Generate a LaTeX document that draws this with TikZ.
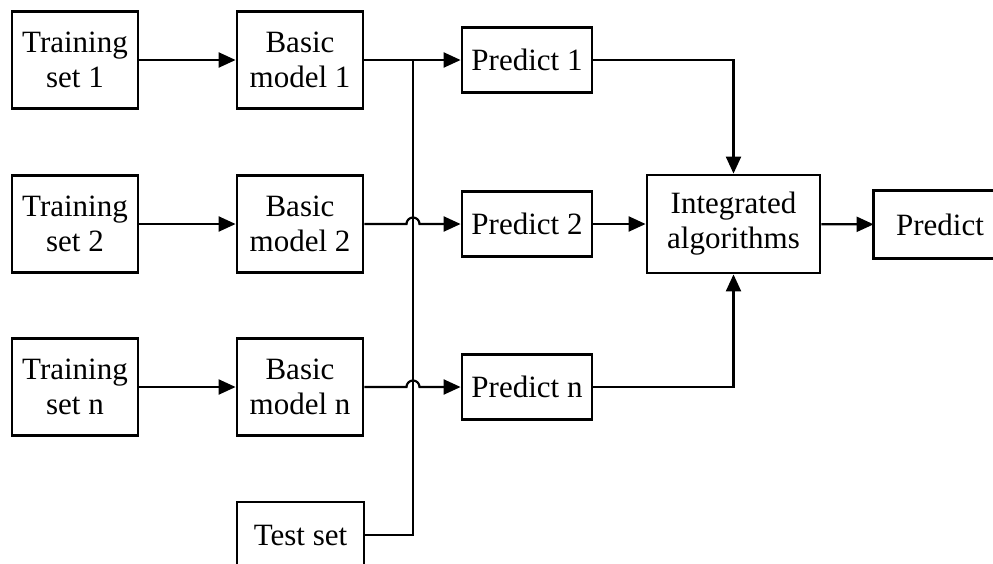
\documentclass[tikz,border=0pt]{standalone}
\usepackage{fontspec}
\setmainfont{Liberation Serif}
\usetikzlibrary{arrows.meta,calc}
\begin{document}
\begin{tikzpicture}[x=1pt,y=1pt,
  box/.style={draw=black,line width=2.8pt,fill=white,align=center,inner sep=0pt,
    font=\fontsize{31}{35}\selectfont},
  tbox/.style={box,minimum width=126pt,minimum height=97pt},
  pbox/.style={box,minimum width=130pt,minimum height=65pt},
  conn/.style={line width=2.2pt,draw=black},
  arr/.style={conn,-{Triangle[length=17pt,width=15pt]}}]
\useasboundingbox (0,0) rectangle (993,-563);
\clip (0,0) rectangle (993,-563);
% nodes
\node[tbox] (t1) at (75,-60) {Training\\set 1};
\node[tbox] (b1) at (300,-60) {Basic\\model 1};
\node[pbox] (p1) at (527,-60) {Predict 1};
\node[tbox] (t2) at (75,-224) {Training\\set 2};
\node[tbox] (b2) at (300,-224) {Basic\\model 2};
\node[pbox] (p2) at (527,-224) {Predict 2};
\node[tbox] (tn) at (75,-387) {Training\\set n};
\node[tbox] (bn) at (300,-387) {Basic\\model n};
\node[pbox] (pn) at (527,-387) {Predict n};
\node[box,minimum width=173pt,minimum height=98pt] (ia) at (733.5,-224) {Integrated\\algorithms};
\node[box,draw=none,minimum width=130pt,minimum height=65pt] (pr) at (940,-224.5) {Predict};
\draw[line width=2.8pt] ([xshift=40pt]pr.north east) -- (pr.north west) -- (pr.south west) -- ([xshift=40pt]pr.south east);
\node[box,minimum width=127pt,minimum height=66pt] (ts) at (300.5,-535) {Test set};
% junction / hop coordinates
\coordinate (j1) at (413,-60);
\coordinate (h2) at (413,-224);
\coordinate (hn) at (413,-387);
% connectors
\draw[arr] (t1) -- (b1);
\draw[arr] (t2) -- (b2);
\draw[arr] (tn) -- (bn);
\draw[arr] (b1) -- (p1);
\draw[arr] (b2.east) -- ([xshift=-6.5pt]h2) arc[start angle=180,end angle=0,radius=6.5pt] -- (p2.west);
\draw[arr] (bn.east) -- ([xshift=-6.5pt]hn) arc[start angle=180,end angle=0,radius=6.5pt] -- (pn.west);
\draw[conn] (ts.east) -| (j1);
\draw[arr] (p1.east) -| (ia.north);
\draw[arr] (p2) -- (ia);
\draw[arr] (pn.east) -| (ia.south);
\draw[arr] (ia) -- (pr);
\end{tikzpicture}
\end{document}
